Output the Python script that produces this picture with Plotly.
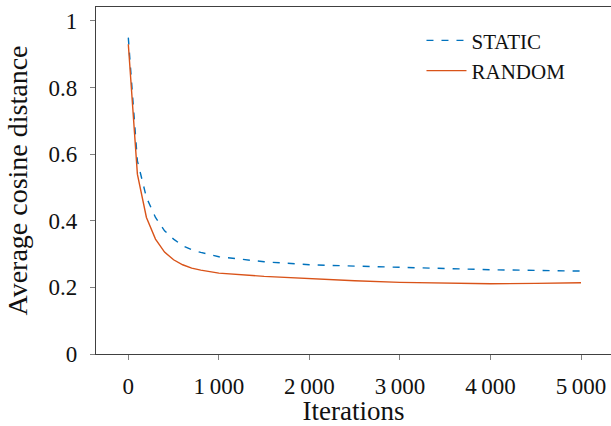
import plotly.graph_objects as go

iterations = [0, 100, 200, 300, 400, 500, 600, 700, 800, 900, 1000,
              1500, 2000, 2500, 3000, 3500, 4000, 4500, 5000]
static_vals = [0.95, 0.58, 0.47, 0.41, 0.37, 0.345, 0.325, 0.313, 0.305, 0.298, 0.292,
               0.277, 0.268, 0.264, 0.260, 0.256, 0.253, 0.251, 0.249]
random_vals = [0.93, 0.54, 0.41, 0.345, 0.306, 0.283, 0.268, 0.258, 0.252, 0.247, 0.243,
               0.233, 0.226, 0.220, 0.215, 0.212, 0.211, 0.212, 0.214]

x_tickvals = [0, 1000, 2000, 3000, 4000, 5000]
x_ticktext = ["0", "1\u2009000", "2\u2009000", "3\u2009000", "4\u2009000", "5\u2009000"]
y_tickvals = [0, 0.2, 0.4, 0.6, 0.8, 1]
y_ticktext = ["0", "0.2", "0.4", "0.6", "0.8", "1"]

BLUE = "#0072BD"
ORANGE = "#D95319"
FONT = "Liberation Serif, Times New Roman, serif"

fig = go.Figure()
fig.add_trace(go.Scatter(x=iterations, y=static_vals, mode="lines", name="STATIC",
                         line=dict(color=BLUE, width=1.4, dash="7px,8px")))
fig.add_trace(go.Scatter(x=iterations, y=random_vals, mode="lines", name="RANDOM",
                         line=dict(color=ORANGE, width=1.4)))

axis_common = dict(showgrid=False, zeroline=False, showline=True, linecolor="#404040",
                   linewidth=1.3, ticks="outside", ticklen=5, tickcolor="#808080",
                   tickwidth=1, automargin=False,
                   tickfont=dict(family=FONT, size=23, color="#111111"))

fig.update_layout(
    width=611, height=426,
    margin=dict(l=96, r=0, t=7, b=72, autoexpand=False),
    paper_bgcolor="white", plot_bgcolor="white",
    font=dict(family=FONT, color="#111111"),
    showlegend=True,
    legend=dict(x=0.632, y=0.962, xanchor="left", yanchor="top",
                bgcolor="rgba(255,255,255,0)", borderwidth=0,
                font=dict(family=FONT, size=21, color="#111111"),
                itemwidth=40, tracegroupgap=0),
    xaxis=dict(range=[-357, 5331], tickvals=x_tickvals, ticktext=x_ticktext,
               mirror=True, ticklabelstandoff=6,
               title=dict(text="Iterations", font=dict(family=FONT, size=27, color="#111111"),
                          standoff=10),
               **axis_common),
    yaxis=dict(range=[0, 1.042], tickvals=y_tickvals, ticktext=y_ticktext,
               mirror=False, ticklabelstandoff=8,
               title=dict(text="Average cosine distance",
                          font=dict(family=FONT, size=28, color="#111111"), standoff=12),
               **axis_common),
)

fig.write_html("out.html", config={"displayModeBar": False},
               post_script="document.body.style.margin='0';document.body.style.padding='0';")
